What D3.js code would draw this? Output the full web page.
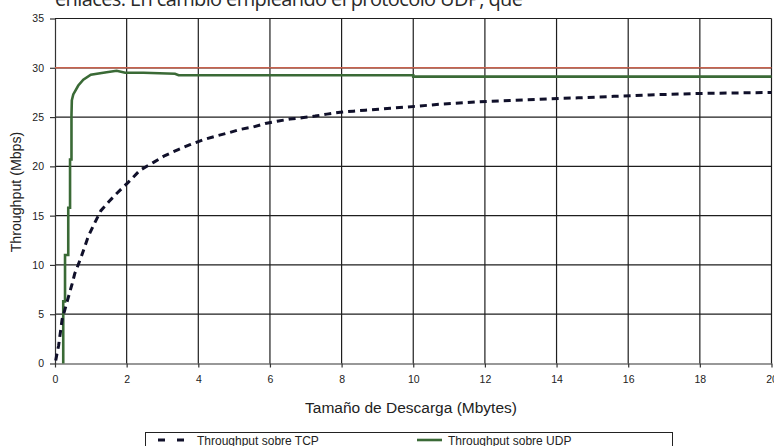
<!DOCTYPE html>
<html><head><meta charset="utf-8">
<script src="https://cdn.jsdelivr.net/npm/d3@7"></script>
<style>html,body{margin:0;padding:0;background:#fff;overflow:hidden}svg{display:block}</style>
</head><body>
<svg id="c" width="774" height="446"></svg>
<script>
const captionText = "enlaces. En cambio empleando el protocolo UDP, que";
const xTicks = [0,2,4,6,8,10,12,14,16,18,20];
const yTicks = [0,5,10,15,20,25,30,35];
const xTitle = "Tamaño de Descarga (Mbytes)";
const yTitle = "Throughput (Mbps)";
const seriesNames = ["Throughput sobre TCP","Throughput sobre UDP"];
const refValue = 30;
const tcpX = [0.02,0.05,0.1,0.2,0.34,0.48,0.55,0.73,0.93,1.1,1.28,1.5,1.68,2.05,2.37,2.75,3.07,3.44,3.77,4.14,4.52,4.84,5.17,5.54,5.87,6.24,6.56,6.94,7.26,7.59,7.96,8.33,8.66,9.03,9.36,10.1,10.75,11.4,12.1,12.8,13.45,14.1,14.6,15.6,16.6,18.0,19.0,20.0];
const tcpY = [0.3,0.9,1.8,4.5,6.3,8.1,9.1,10.8,12.9,14.2,15.5,16.4,17.1,18.4,19.6,20.4,21.1,21.7,22.2,22.7,23.1,23.4,23.75,24.0,24.35,24.6,24.8,24.95,25.1,25.3,25.5,25.6,25.7,25.8,25.9,26.1,26.3,26.45,26.6,26.7,26.8,26.9,26.95,27.1,27.25,27.4,27.45,27.5];
const udpX = [0.23,0.23,0.28,0.28,0.37,0.37,0.42,0.42,0.46,0.46,0.47,0.51,0.65,0.79,1.0,1.26,1.44,1.72,1.96,2.47,3.35,3.45,10.0,10.0,20.0];
const udpY = [0,6.3,6.3,11,11,15.8,15.8,20.7,20.7,25.2,26.7,27.3,28.2,28.8,29.3,29.45,29.55,29.7,29.5,29.5,29.4,29.25,29.25,29.1,29.1];

const svg = d3.select("#c");
const x = d3.scaleLinear().domain([0,20]).range([55,771.5]);
const y = d3.scaleLinear().domain([0,35]).range([363.5,18.5]);
const font = "Arial, 'Liberation Sans', sans-serif";

// caption text clipped at top
svg.append("text").attr("x",55).attr("y",6).attr("font-family","'Open Sans', sans-serif")
  .attr("font-size",20).attr("fill","#2a2a2a").attr("textLength",468).attr("lengthAdjust","spacing")
  .text(captionText);

// gridlines
const g = svg.append("g");
g.selectAll("line.h").data(yTicks.filter(d=>d>0)).join("line")
  .attr("x1",x(0)).attr("x2",x(20)).attr("y1",d=>y(d)).attr("y2",d=>y(d))
  .attr("stroke","#1e1e1e").attr("stroke-width",1.2);
g.selectAll("line.v").data(xTicks.filter(d=>d>0)).join("line")
  .attr("x1",d=>x(d)).attr("x2",d=>x(d)).attr("y1",y(0)).attr("y2",y(35))
  .attr("stroke","#1e1e1e").attr("stroke-width",1.2);

// axes
const xa = svg.append("g").attr("transform",`translate(0,${y(0)})`)
  .call(d3.axisBottom(x).tickValues(xTicks).tickSize(4).tickPadding(8).tickSizeOuter(0));
const ya = svg.append("g").attr("transform",`translate(${x(0)},0)`)
  .call(d3.axisLeft(y).tickValues(yTicks).tickSize(5).tickPadding(6).tickSizeOuter(0));
[xa,ya].forEach(a=>{
  a.select(".domain").attr("stroke","#333").attr("stroke-width",1.2);
  a.selectAll(".tick line").attr("stroke","#333").attr("stroke-width",1.2);
  a.selectAll("text").attr("font-family",font).attr("font-size",10.5).attr("fill","#222");
});

// reference line
svg.append("line").attr("x1",x(0)).attr("x2",x(20)).attr("y1",y(refValue)).attr("y2",y(refValue))
  .attr("stroke","#c8624e").attr("stroke-width",1.4);

const line = d3.line().x(d=>x(d[0])).y(d=>y(d[1]));
svg.append("path").datum(udpX.map((v,i)=>[v,udpY[i]]))
  .attr("d",line).attr("fill","none").attr("stroke","#3a6a36").attr("stroke-width",2.6);
svg.append("path").datum(tcpX.map((v,i)=>[v,tcpY[i]]))
  .attr("d",line).attr("fill","none").attr("stroke","#10102a").attr("stroke-width",3)
  .attr("stroke-dasharray","7,5");

// titles
svg.append("text").attr("x",411).attr("y",413).attr("text-anchor","middle")
  .attr("font-family",font).attr("font-size",15.5).attr("fill","#222").text(xTitle);
svg.append("text").attr("transform","translate(21,192) rotate(-90)").attr("text-anchor","middle")
  .attr("font-family",font).attr("font-size",14.2).attr("fill","#222").text(yTitle);

// legend
const lg = svg.append("g");
lg.append("rect").attr("x",145.5).attr("y",432.5).attr("width",527).attr("height",30)
  .attr("fill","#fff").attr("stroke","#222").attr("stroke-width",1);
lg.append("line").attr("x1",158).attr("x2",184).attr("y1",440).attr("y2",440)
  .attr("stroke","#10102a").attr("stroke-width",3).attr("stroke-dasharray","7,12");
lg.append("text").attr("x",197).attr("y",445).attr("font-family",font).attr("font-size",12)
  .attr("fill","#222").text(seriesNames[0]);
lg.append("line").attr("x1",417).attr("x2",442).attr("y1",440).attr("y2",440)
  .attr("stroke","#3a6a36").attr("stroke-width",2.6);
lg.append("text").attr("x",448).attr("y",445).attr("font-family",font).attr("font-size",12)
  .attr("fill","#222").text(seriesNames[1]);
</script>
</body></html>
